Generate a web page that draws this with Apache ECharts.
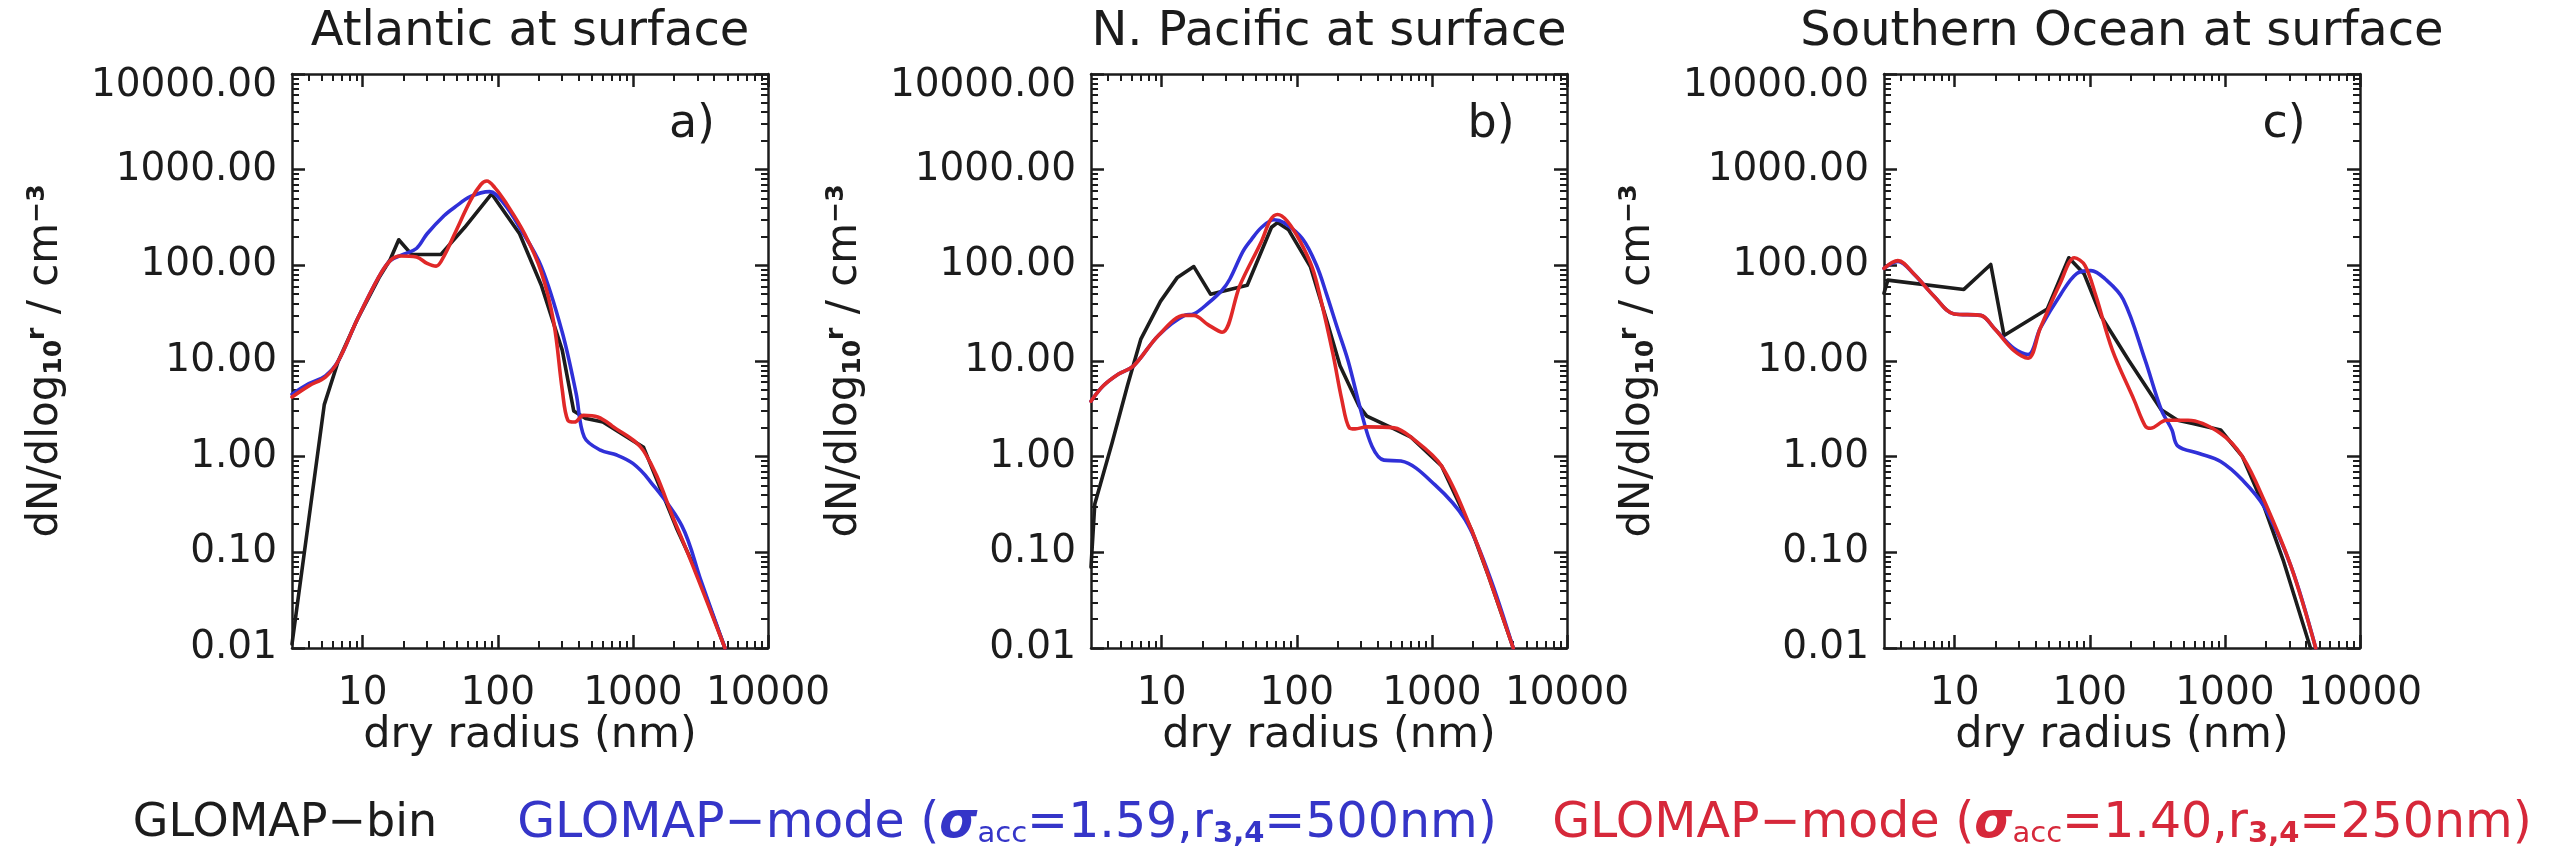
<!DOCTYPE html>
<html>
<head>
<meta charset="utf-8">
<script src="https://cdn.jsdelivr.net/npm/echarts@6/dist/echarts.min.js"></script>
<style>
html,body{margin:0;padding:0;background:#ffffff;}
#chart{width:2550px;height:854px;}
</style>
</head>
<body>
<div id="chart"></div>
<script>
// ---------------- data ----------------
const panelTitles = ['Atlantic at surface', 'N. Pacific at surface', 'Southern Ocean at surface'];
const panelLetters = ['a)', 'b)', 'c)'];
const seriesNames = ['GLOMAP-bin', 'GLOMAP-mode (σacc=1.59,r3,4=500nm)', 'GLOMAP-mode (σacc=1.40,r3,4=250nm)'];

const xTickValues = [10, 100, 1000, 10000];
const xTickLabels = ['10', '100', '1000', '10000'];
const yTickValues = [0.01, 0.1, 1, 10, 100, 1000, 10000];
const yTickLabels = ['0.01', '0.10', '1.00', '10.00', '100.00', '1000.00', '10000.00'];
const xRange = [3, 10000];
const yRange = [0.01, 10000];

// Panel a: Atlantic
const atlBinR = [3, 5.2, 6.6, 9.1, 13.2, 16, 18.5, 23, 38, 57, 90, 145, 210, 300, 365, 450, 600, 1200, 2100, 3000, 4800];
const atlBinN = [0.011, 3.5, 10, 27, 74, 115, 185, 130, 130, 250, 560, 214, 62, 13, 3.0, 2.5, 2.3, 1.25, 0.18, 0.06, 0.01];
const atlM1R = [3, 4, 5.3, 6.6, 9.1, 13.2, 16, 20, 25, 30, 40, 48, 63, 87, 110, 145, 210, 300, 380, 437, 575, 760, 1000, 1320, 2300, 3200, 4800];
const atlM1N = [4.5, 5.8, 7, 10, 27, 76, 112, 130, 150, 214, 330, 405, 525, 590, 450, 250, 97, 20, 4.6, 1.6, 1.17, 1.04, 0.85, 0.57, 0.19, 0.05, 0.01];
const atlM2R = [3, 4, 5.3, 6.6, 9.1, 13.2, 16, 19, 25, 30, 35, 40, 48, 63, 75, 83, 95, 115, 158, 210, 260, 300, 330, 370, 430, 550, 700, 1200, 2100, 3000, 4800];
const atlM2N = [4.2, 5.5, 6.8, 10, 27, 76, 112, 125, 122, 105, 98, 125, 214, 480, 700, 760, 650, 450, 214, 85, 25, 5, 2.4, 2.3, 2.7, 2.6, 2.1, 1.15, 0.19, 0.055, 0.01];

// Panel b: N. Pacific
const pacBinR = [3, 3.2, 4.3, 5.6, 7, 9.8, 13, 17.3, 23, 32, 43, 65, 72, 87, 126, 166, 209, 288, 330, 525, 700, 1180, 1970, 2630, 4000];
const pacBinN = [0.07, 0.32, 1.4, 5.6, 16.8, 42, 74, 97, 50, 56, 62, 250, 280, 235, 97, 27, 8.9, 3.4, 2.65, 1.95, 1.6, 0.8, 0.17, 0.056, 0.01];
const pacM1R = [3, 3.7, 4.8, 6.2, 9.5, 14.8, 17.3, 22, 28, 32, 40, 46, 55, 68, 80, 110, 140, 166, 200, 240, 297, 361, 442, 590, 1050, 1760, 2630, 4000];
const pacM1N = [3.8, 5.5, 7.3, 8.9, 18.6, 30, 31, 40, 55, 72, 140, 185, 250, 300, 280, 190, 100, 50, 22, 10, 3.1, 1.28, 0.92, 0.9, 0.51, 0.22, 0.06, 0.01];
const pacM2R = [3, 3.7, 4.8, 6.2, 9.5, 14.8, 17.3, 22, 28, 38, 55, 64, 72, 85, 105, 130, 150, 185, 215, 245, 270, 330, 525, 700, 1180, 1970, 2630, 4000];
const pacM2N = [3.8, 5.5, 7.3, 8.9, 18.6, 30, 30, 24, 20, 62, 180, 300, 340, 290, 182, 95, 45, 12, 4, 2.0, 1.95, 2.05, 2.0, 1.6, 0.8, 0.17, 0.056, 0.01];

// Panel c: Southern Ocean
const souBinR = [3, 3.2, 11.7, 18.5, 23.2, 48.5, 70, 91, 122, 194, 338, 447, 600, 930, 1350, 1950, 2700, 4300];
const souBinN = [51, 70, 56, 102, 18.5, 35, 120, 81, 29, 10.2, 3.1, 2.4, 2.2, 1.9, 1.0, 0.30, 0.083, 0.01];
const souM1R = [3, 3.8, 5, 7.1, 9.9, 15.6, 19.6, 27.5, 35, 43, 61, 80, 102, 130, 177, 257, 338, 406, 447, 645, 930, 1350, 1950, 3100, 4700];
const souM1N = [93, 110, 81, 47, 31, 30, 22, 13.5, 11.7, 22, 50, 82, 88, 72, 44, 10.2, 3.1, 1.9, 1.3, 1.08, 0.89, 0.57, 0.30, 0.07, 0.01];
const souM2R = [3, 3.8, 5, 7.1, 9.9, 15.6, 19.6, 27.5, 35, 43, 61, 77, 92, 111, 147, 213, 257, 281, 370, 535, 930, 1350, 1950, 3100, 4700];
const souM2N = [93, 112, 81, 47, 31, 30, 22, 12.8, 10.7, 22, 67, 120, 100, 48, 13, 3.9, 2.1, 1.98, 2.4, 2.4, 1.75, 1.0, 0.35, 0.07, 0.01];

const panels = [
  [[atlBinR, atlBinN], [atlM1R, atlM1N], [atlM2R, atlM2N]],
  [[pacBinR, pacBinN], [pacM1R, pacM1N], [pacM2R, pacM2N]],
  [[souBinR, souBinN], [souM1R, souM1N], [souM2R, souM2N]]
];

// ---------------- layout / style ----------------
const FONT = 'DejaVu Sans';
const INK = '#1c1c1c';
const lineColors = ['#1c1c1c', '#3030d8', '#e02828'];
const gridLefts = [292, 1091, 1884];
const gridTop = 74, gridW = 476, gridH = 574;

const L = Math.log10;
function minorList(lo, hi) {
  const out = [];
  for (let d = -3; d <= 5; d++) {
    for (let k = 2; k <= 9; k++) {
      const v = k * Math.pow(10, d);
      if (v > lo * 1.0001 && v < hi * 0.9999) out.push(L(v));
    }
  }
  return out;
}
const xMinor = minorList(xRange[0], xRange[1]);
const yMinor = minorList(yRange[0], yRange[1]);
const xMajor = xTickValues.map(L);
const yMajor = yTickValues.map(L);
function labelFor(values, labels) {
  return function (v) {
    for (let i = 0; i < values.length; i++) if (Math.abs(L(values[i]) - v) < 1e-6) return labels[i];
    return '';
  };
}
const xFmt = labelFor(xTickValues, xTickLabels);
const yFmtBase = labelFor(yTickValues, yTickLabels);

const grids = [], xAxes = [], yAxes = [], series = [], titles = [];
for (let g = 0; g < 3; g++) {
  grids.push({ left: gridLefts[g], top: gridTop, width: gridW, height: gridH, outerBoundsMode: 'none', containLabel: false });
  const baseX = { gridIndex: g, type: 'value', min: L(xRange[0]), max: L(xRange[1]), splitLine: { show: false } };
  const baseY = { gridIndex: g, type: 'value', min: L(yRange[0]), max: L(yRange[1]), splitLine: { show: false } };
  const axLine = { show: true, onZero: false, lineStyle: { color: INK, width: 2.5 } };
  const noLine = { show: false, onZero: false };
  const majorTick = (vals) => ({ show: true, inside: true, length: 13, customValues: vals, lineStyle: { color: INK, width: 2.5 } });
  const minorTick = (vals) => ({ show: true, inside: true, length: 7, customValues: vals, lineStyle: { color: INK, width: 2 } });
  xAxes.push(Object.assign({}, baseX, {
    position: 'bottom', axisLine: axLine, axisTick: majorTick(xMajor),
    axisLabel: { show: true, customValues: xMajor, formatter: xFmt, margin: 26, fontSize: 39, fontFamily: FONT, color: INK },
    name: 'dry radius (nm)', nameLocation: 'middle', nameGap: 66, nameMoveOverlap: false,
    nameTextStyle: { fontSize: 43, fontFamily: FONT, color: INK }
  }));
  xAxes.push(Object.assign({}, baseX, { position: 'bottom', axisLine: noLine, axisTick: minorTick(xMinor), axisLabel: { show: false } }));
  xAxes.push(Object.assign({}, baseX, { position: 'top', axisLine: axLine, axisTick: majorTick(xMajor), axisLabel: { show: false } }));
  xAxes.push(Object.assign({}, baseX, { position: 'top', axisLine: noLine, axisTick: minorTick(xMinor), axisLabel: { show: false } }));
  yAxes.push(Object.assign({}, baseY, {
    position: 'left', axisLine: axLine, axisTick: majorTick(yMajor),
    axisLabel: {
      show: true, customValues: yMajor, margin: 15, fontSize: 39, fontFamily: FONT, color: INK,
      formatter: function (v) { const s = yFmtBase(v); return Math.abs(v - L(yRange[1])) < 1e-6 ? '{t|' + s + '}' : s; },
      rich: { t: { fontSize: 39, fontFamily: FONT, color: INK, padding: [24, 0, 0, 0] } }
    },
    name: '{m|dN/dlog}{sb|10}{sp|r}{m| / cm}{sp|−3}', nameLocation: 'middle', nameRotate: 90, nameGap: 225, nameMoveOverlap: false,
    nameTextStyle: {
      fontSize: 42, fontFamily: FONT, color: INK,
      rich: {
        m: { fontSize: 42, fontFamily: FONT, color: INK },
        sb: { fontSize: 25, fontFamily: FONT, color: INK, fontWeight: 'bold', verticalAlign: 'bottom' },
        sp: { fontSize: 25, fontFamily: FONT, color: INK, fontWeight: 'bold', verticalAlign: 'top' }
      }
    }
  }));
  yAxes.push(Object.assign({}, baseY, { position: 'left', axisLine: noLine, axisTick: minorTick(yMinor), axisLabel: { show: false } }));
  yAxes.push(Object.assign({}, baseY, { position: 'right', axisLine: axLine, axisTick: majorTick(yMajor), axisLabel: { show: false } }));
  yAxes.push(Object.assign({}, baseY, { position: 'right', axisLine: noLine, axisTick: minorTick(yMinor), axisLabel: { show: false } }));

  for (let s = 0; s < 3; s++) {
    const r = panels[g][s][0], n = panels[g][s][1];
    series.push({
      type: 'line', name: seriesNames[s], xAxisIndex: 4 * g, yAxisIndex: 4 * g,
      data: r.map((x, i) => [L(x), L(n[i])]),
      showSymbol: false, symbol: 'none',
      smooth: s === 0 ? false : 0.35,
      lineStyle: { color: lineColors[s], width: 3.6, cap: 'round', join: 'round' },
      itemStyle: { color: lineColors[s] },
      z: 2 + s
    });
  }

  titles.push({
    text: panelTitles[g], left: gridLefts[g] + gridW / 2, top: 33, textAlign: 'center', textVerticalAlign: 'middle', padding: 0,
    textStyle: { fontFamily: FONT, fontSize: 48, fontWeight: 'normal', color: INK }
  });
  titles.push({
    text: panelLetters[g], left: gridLefts[g] + gridW - 76, top: 125, textAlign: 'center', textVerticalAlign: 'middle', padding: 0,
    textStyle: { fontFamily: FONT, fontSize: 46, fontWeight: 'normal', color: INK }
  });
}

const BLUE_TXT = '#3535c8', RED_TXT = '#d6283a';
function modeRich(color) {
  return {
    n: { fill: color, fontSize: 49, fontFamily: FONT },
    s: { fill: color, fontSize: 49, fontFamily: FONT, fontWeight: 'bold', fontStyle: 'italic' },
    a: { fill: color, fontSize: 29, fontFamily: FONT, verticalAlign: 'bottom' },
    b: { fill: color, fontSize: 29, fontFamily: FONT, fontWeight: 'bold', verticalAlign: 'bottom' }
  };
}
const legendY = 824;
const graphic = [
  { type: 'text', x: 285, y: legendY, style: { text: 'GLOMAP−bin', fill: INK, fontSize: 46, fontFamily: FONT, align: 'center', verticalAlign: 'middle' } },
  { type: 'text', x: 1007, y: legendY, style: { text: '{n|GLOMAP−mode (}{s|σ}{a|acc}{n|=1.59,r}{b|3,4}{n|=500nm)}', rich: modeRich(BLUE_TXT), align: 'center', verticalAlign: 'middle' } },
  { type: 'text', x: 2042, y: legendY, style: { text: '{n|GLOMAP−mode (}{s|σ}{a|acc}{n|=1.40,r}{b|3,4}{n|=250nm)}', rich: modeRich(RED_TXT), align: 'center', verticalAlign: 'middle' } }
];

const chart = echarts.init(document.getElementById('chart'), null, { renderer: 'canvas' });
chart.setOption({
  backgroundColor: '#ffffff',
  animation: false,
  title: titles,
  grid: grids,
  xAxis: xAxes,
  yAxis: yAxes,
  series: series,
  graphic: graphic
});
</script>
</body>
</html>
